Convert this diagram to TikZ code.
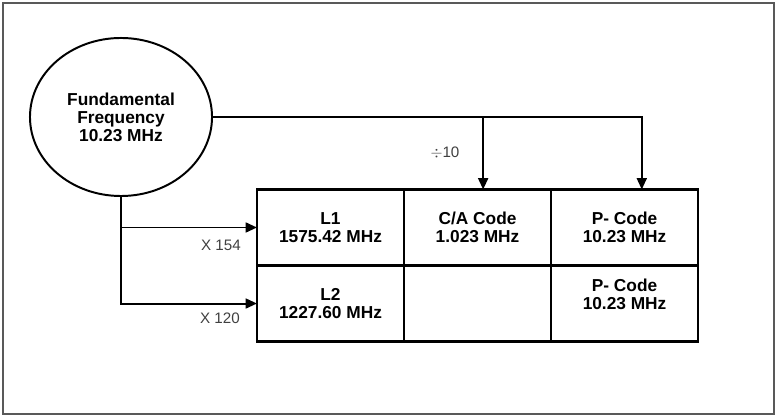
\documentclass[tikz,border=0pt]{standalone}
\usepackage{fontspec}
\setmainfont{Liberation Sans}
\usetikzlibrary{positioning, arrows.meta, calc, shapes.geometric}

\begin{document}
\begin{tikzpicture}[
  x=0.025cm, y=-0.025cm,
  >={Triangle[length=8pt, width=7pt]},
  font=\fontsize{12.3}{12.9}\selectfont\bfseries,
  cell/.style={draw, line width=1.9pt, minimum width=3.675cm, minimum height=1.9cm,
               inner sep=0pt, outer sep=0pt, align=center},
  mult/.style={font=\fontsize{10.8}{12}\selectfont, text=black!75},
  link/.style={line width=1.4pt},
]

% Frame
\path[use as bounding box] (0,0) rectangle (778,418);
\draw[gray!70!black, line width=1pt] (3,3) rectangle (774,414);

% Oscillator
\node[ellipse, draw, line width=1.4pt, minimum width=4.55cm, minimum height=3.95cm,
      align=center] (fund) at (121,117) {Fundamental\\Frequency\\10.23 MHz};

% Signal table
\node[cell] (l1) at (330.5,227.5) {L1\\1575.42 MHz};
\node[cell, right=0pt of l1] (ca) {C/A Code\\1.023 MHz};
\node[cell, right=0pt of ca] (pc1) {P- Code\\10.23 MHz};
\node[cell, below=0pt of l1] (l2) {L2\\1227.60 MHz};
\node[cell, below=0pt of ca] (blank) {};
\node[cell, below=0pt of pc1] (pc2) {P- Code\\10.23 MHz\\\mbox{}};

% Code feeds
\draw[link, ->] (fund.east) -| ([xshift=0.14cm]ca.north);
\draw[link, ->] (fund.east) -| ([xshift=0.43cm]pc1.north);
\node[mult] (div) at (445,153) {$\div$10};

% Carrier feeds
\draw[link, ->] (fund.south) |- (l1.west);
\draw[link, ->] (fund.south) |- (l2.west);
\node[mult] (m154) at (221,245) {X 154};
\node[mult] (m120) at (220,318) {X 120};

\end{tikzpicture}
\end{document}
